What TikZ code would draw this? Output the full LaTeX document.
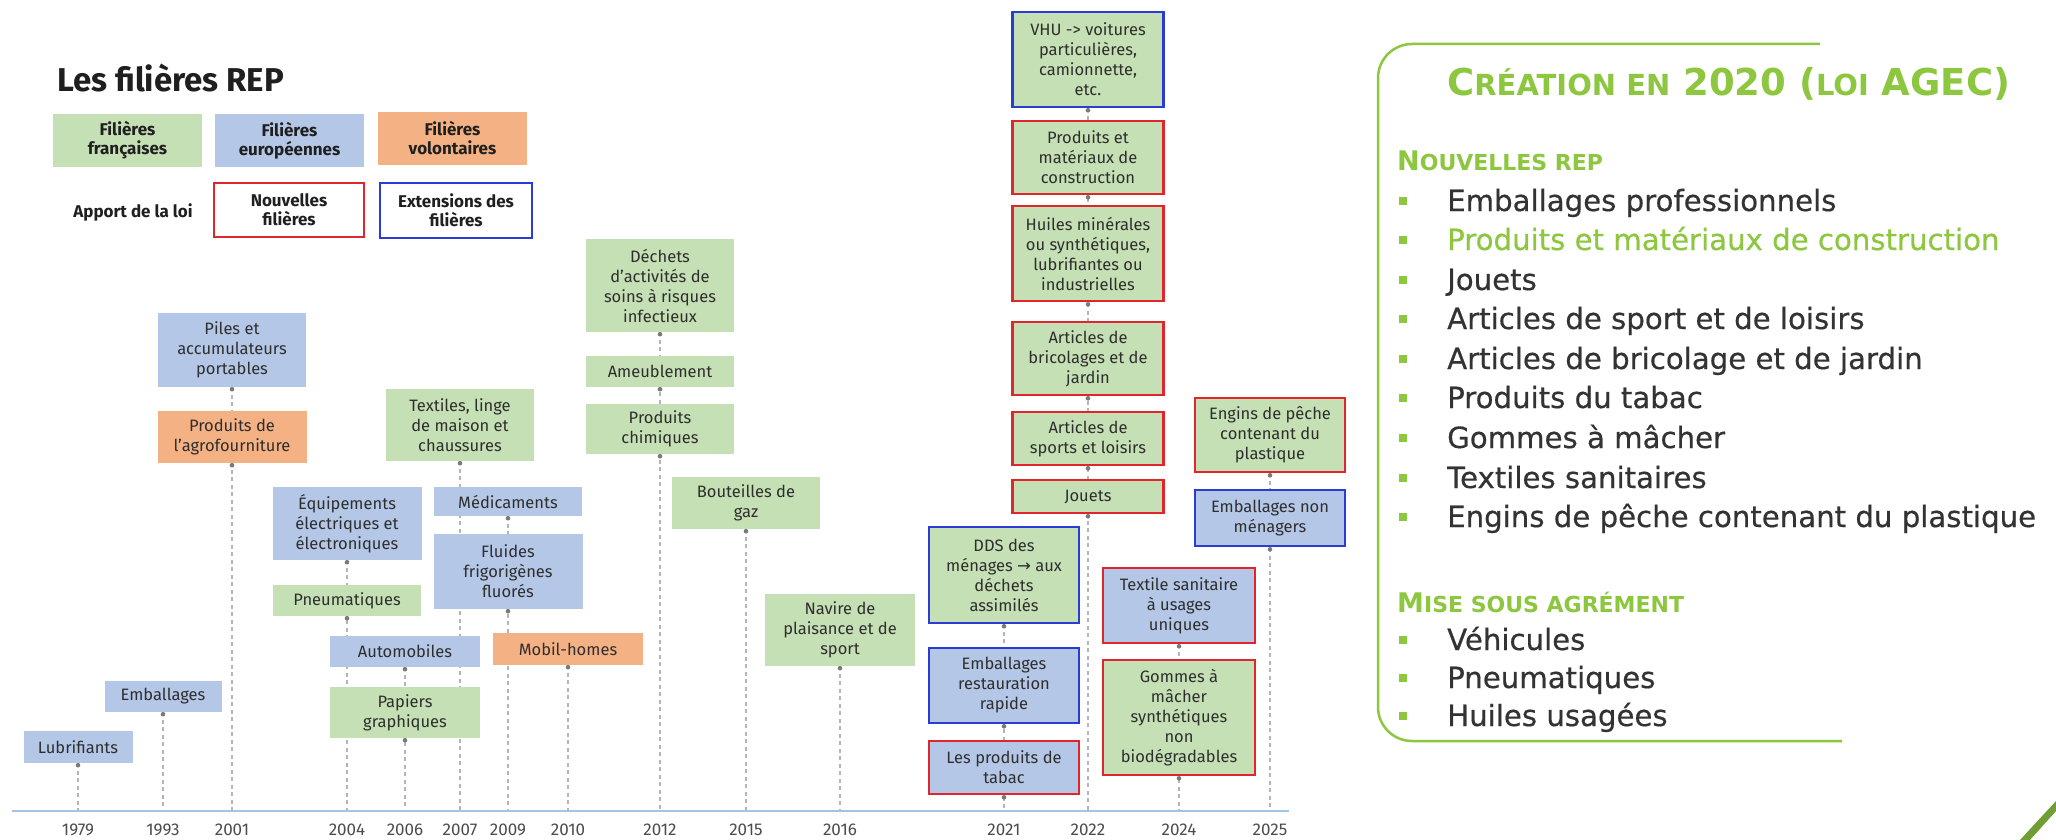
\documentclass[tikz,border=0pt]{standalone}
\usepackage{fontspec}
\setmainfont{Fira Sans}
\newfontfamily\pfont{DejaVu Sans}
\newfontfamily\pfontm[FakeBold=0.5]{DejaVu Sans}
\pgfdeclarelayer{bg}
\pgfsetlayers{bg,main}
\definecolor{gfill}{HTML}{C5E0B4}
\definecolor{bfill}{HTML}{B4C7E7}
\definecolor{ofill}{HTML}{F4B183}
\definecolor{redb}{HTML}{E0262C}
\definecolor{blueb}{HTML}{2A3CD4}
\definecolor{axisc}{HTML}{A3C4E4}
\definecolor{dashc}{HTML}{B5B5B5}
\definecolor{dotc}{HTML}{7A7A7A}
\definecolor{txt}{HTML}{2E2E2E}
\definecolor{agec}{HTML}{8DC63F}
\definecolor{ptxt}{HTML}{333333}
\newcommand{\tb}[7]{%
  \pgfmathsetmacro{\tbY}{(#3+#5)/2}%
  \pgfmathsetmacro{\tbH}{#5-#3}%
  \node[tbox,#6,minimum width=#4pt,minimum height=\tbH pt] (#1) at (#2,\tbY) {#7};}
\newcommand{\agsm}[1]{{\fontsize{22}{24}\selectfont #1}}
\newcommand{\agsmT}[1]{{\fontsize{29}{32}\selectfont #1}}
\tikzset{
 tbox/.style={inner sep=0pt, align=center, text=txt, font=\fontsize{16.5}{20}\selectfont},
 legbox/.style={font=\bfseries\fontsize{17}{19}\selectfont, text=black!88},
 grn/.style={fill=gfill}, blu/.style={fill=bfill}, org/.style={fill=ofill},
 redframe/.style={draw=redb, line width=2.6pt},
 blueframe/.style={draw=blueb, line width=2.6pt},
 dashln/.style={draw=dashc, line width=1.2pt, dash pattern=on 4pt off 3.5pt},
 yearlab/.style={inner sep=0pt, text=black!70, font=\fontsize{17}{20}\selectfont},
 pitem/.style={inner sep=0pt, anchor=base west, text=ptxt, font=\pfontm\fontsize{29.2}{31}\selectfont},
 phead/.style={inner sep=0pt, anchor=base west, text=agec, font=\pfont\bfseries\fontsize{27}{30}\selectfont},
}
\begin{document}
\begin{tikzpicture}[x=1pt,y=-1pt]
\useasboundingbox (0,0) rectangle (2056,840);
\begin{pgfonlayer}{bg}
\fill[white] (0,0) rectangle (2056,840);
\end{pgfonlayer}

% ---- title and legend
\node[anchor=base west, inner sep=0pt, font=\bfseries\fontsize{33}{36}\selectfont, text=black!88] (title) at (57,92) {Les filières REP};
\tb{lfr}{127.5}{114}{149}{167}{legbox,grn}{Filières\\françaises}
\tb{leu}{289.5}{114}{149}{167}{legbox,blu}{Filières\\européennes}
\tb{lvo}{452.5}{112}{149}{165}{legbox,org}{Filières\\volontaires}
\node[tbox,legbox] (lapp) at (133,212) {Apport de la loi};
\tb{lnv}{289}{183}{150}{237}{legbox,fill=white,redframe}{Nouvelles\\filières}
\tb{lex}{456}{183}{152}{238}{legbox,fill=white,blueframe}{Extensions des\\filières}

% ---- timeline boxes
\tb{lub}{78}{731}{109}{763}{blu}{Lubrifiants}
\tb{emb}{163}{681}{117}{712}{blu}{Emballages}
\tb{piles}{232}{313}{148}{387}{blu}{Piles et\\accumulateurs\\portables}
\tb{agro}{232}{411}{149}{463}{org}{Produits de\\l’agrofourniture}
\tb{equip}{347}{487}{149}{560}{blu}{Équipements\\électriques et\\électroniques}
\tb{pneu}{347}{585}{148}{616}{grn}{Pneumatiques}
\tb{auto}{405}{636}{150}{667}{blu}{Automobiles}
\tb{pap}{405}{687}{150}{738}{grn}{Papiers\\graphiques}
\tb{texl}{460}{389}{148}{461}{grn}{Textiles, linge\\de maison et\\chaussures}
\tb{medic}{508}{487}{148}{516}{blu}{Médicaments}
\tb{flu}{508}{534}{149}{609}{blu}{Fluides\\frigorigènes\\fluorés}
\tb{mobil}{568}{633}{150}{665}{org}{Mobil-homes}
\tb{dech}{660}{239}{148}{332}{grn}{Déchets\\d’activités de\\soins à risques\\infectieux}
\tb{ameu}{660}{356}{148}{387}{grn}{Ameublement}
\tb{chim}{660}{404}{148}{454}{grn}{Produits\\chimiques}
\tb{bout}{746}{477}{148}{529}{grn}{Bouteilles de\\gaz}
\tb{nav}{840}{594}{150}{666}{grn}{Navire de\\plaisance et de\\sport}
\tb{dds}{1004}{527}{150}{623}{grn,blueframe}{DDS des\\ménages {\pfont →} aux\\déchets\\assimilés}
\tb{embr}{1004}{648}{150}{723}{blu,blueframe}{Emballages\\restauration\\rapide}
\tb{tab}{1004}{741}{150}{794}{blu,redframe}{Les produits de\\tabac}
\tb{vhu}{1088}{12}{151}{107}{grn,blueframe}{VHU -> voitures\\particulières,\\camionnette,\\etc.}
\tb{pmc}{1088}{121}{151}{194}{grn,redframe}{Produits et\\matériaux de\\construction}
\tb{hui}{1088}{206}{151}{301}{grn,redframe}{Huiles minérales\\ou synthétiques,\\lubrifiantes ou\\industrielles}
\tb{bric}{1088}{322}{151}{395}{grn,redframe}{Articles de\\bricolages et de\\jardin}
\tb{spo}{1088}{412}{151}{465}{grn,redframe}{Articles de\\sports et loisirs}
\tb{jou}{1088}{480}{151}{513}{grn,redframe}{Jouets}
\tb{texs}{1179}{568}{152}{643}{blu,redframe}{Textile sanitaire\\à usages\\uniques}
\tb{gom}{1179}{660}{152}{775}{grn,redframe}{Gommes à\\mâcher\\synthétiques\\non\\biodégradables}
\tb{eng}{1270}{398}{150}{472}{grn,redframe}{Engins de pêche\\contenant du\\plastique}
\tb{embn}{1270}{490}{150}{546}{blu,blueframe}{Emballages non\\ménagers}

% ---- axis and years
\coordinate (axL) at (12,811);
\coordinate (axR) at (1289,811);
\draw[axisc, line width=2pt] (axL) -- (axR);
\foreach \yr/\xx in {1979/78,1993/163,2001/232,2004/347,2006/405,2007/460,2009/508,2010/568,2012/660,2015/746,2016/840,2021/1004,2022/1088,2024/1179,2025/1270}{
  \node[yearlab] (y\yr) at (\xx,830) {\yr};
  \coordinate (a\yr) at (\xx,811);
}

% ---- dashed connectors behind the boxes
\begin{pgfonlayer}{bg}
\draw[dashln] (lub.south) -- (a1979);
\draw[dashln] (emb.south) -- (a1993);
\draw[dashln] (piles.south) -- (a2001);
\draw[dashln] (equip.south) -- (a2004);
\draw[dashln] (auto.south) -- (a2006);
\draw[dashln] (texl.south) -- (a2007);
\draw[dashln] (medic.south) -- (a2009);
\draw[dashln] (mobil.south) -- (a2010);
\draw[dashln] (dech.south) -- (a2012);
\draw[dashln] (bout.south) -- (a2015);
\draw[dashln] (nav.south) -- (a2016);
\draw[dashln] (dds.south) -- (a2021);
\draw[dashln] (vhu.south) -- (a2022);
\draw[dashln] (texs.south) -- (a2024);
\draw[dashln] (eng.south) -- (a2025);
\end{pgfonlayer}
\foreach \n in {lub,emb,piles,agro,equip,pneu,auto,pap,texl,medic,flu,mobil,dech,ameu,chim,bout,nav,dds,embr,tab,vhu,pmc,hui,bric,spo,jou,texs,gom,eng,embn}{
  \fill[dotc] (\n.south) ++(0,2) circle (2.3pt);
}

% ---- right panel
\draw[agec, line width=2.5pt, rounded corners=34pt] (1820,44) -- (1378,44) -- (1378,741) -- (1842,741);
\node[inner sep=0pt, anchor=base west, text=agec, font=\pfont\bfseries\fontsize{37}{40}\selectfont] (ptitle) at (1447,96) {C\agsmT{RÉATION EN} 2020 (\agsmT{LOI} AGEC)};
\node[phead] (h1) at (1397,170) {N\agsm{OUVELLES REP}};
\node[pitem] (p1) at (1447,211) {Emballages professionnels};
\node[pitem, text=agec] (p2) at (1447,250) {Produits et matériaux de construction};
\node[pitem] (p3) at (1447,290) {Jouets};
\node[pitem] (p4) at (1447,329) {Articles de sport et de loisirs};
\node[pitem] (p5) at (1447,369) {Articles de bricolage et de jardin};
\node[pitem] (p6) at (1447,408) {Produits du tabac};
\node[pitem] (p7) at (1447,448) {Gommes à mâcher};
\node[pitem] (p8) at (1447,488) {Textiles sanitaires};
\node[pitem] (p9) at (1447,527) {Engins de pêche contenant du plastique};
\node[phead] (h2) at (1397,612) {M\agsm{ISE SOUS AGRÉMENT}};
\node[pitem] (q1) at (1447,650) {Véhicules};
\node[pitem] (q2) at (1447,688) {Pneumatiques};
\node[pitem] (q3) at (1447,726) {Huiles usagées};
\foreach \yy in {211,250,290,329,369,408,448,488,527,650,688,726}{
  \fill[agec] (1399,\yy-14) rectangle (1407,\yy-6);
}

% ---- corner logo fragment
\fill[agec!80!black] (2020,840) -- (2056,801) -- (2056,811) -- (2030,840) -- cycle;
\end{tikzpicture}
\end{document}
